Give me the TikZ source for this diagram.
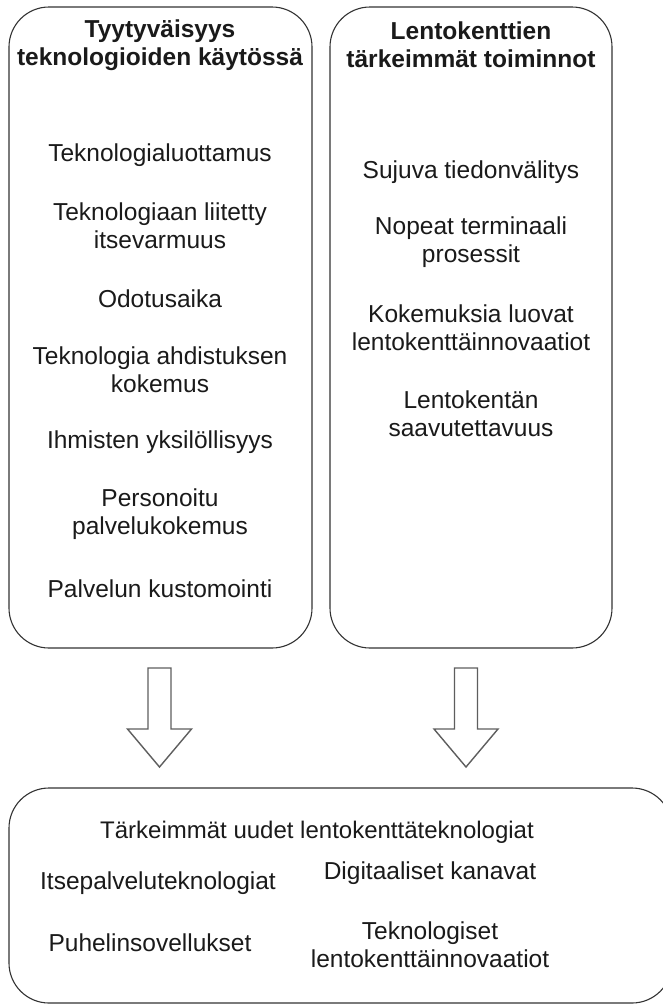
\documentclass[tikz,border=0pt]{standalone}
\usepackage{fontspec}
\setmainfont{Liberation Sans}
\usetikzlibrary{positioning}
\definecolor{edge}{HTML}{333333}
\definecolor{ink}{HTML}{1A1A1A}
\definecolor{arrowgray}{HTML}{5E5E5E}

\begin{document}
\begin{tikzpicture}[x=1pt,y=-1pt,
    panel/.style={draw=edge,line width=1.1pt,rounded corners=40pt},
    item/.style={font=\fontsize{24.5}{28}\selectfont,text=ink,align=center,inner sep=0pt},
    headline/.style={item,font=\fontsize{24.5}{28}\selectfont\bfseries},
    blockarrow/.style={draw=arrowgray,line width=1.4pt,fill=white,line join=miter}]
\useasboundingbox (0,0) rectangle (663,1004);
\clip (0,0) rectangle (663,1004);
\fill[white] (0,0) rectangle (663,1004);
% the three rounded panels
\draw[panel] (9,7) rectangle (312,648);
\draw[panel] (330,7) rectangle (612,648);
\draw[panel] (9,788) rectangle (672,1003);
% left panel
\node[headline] (satTitle) at (160,45) {Tyytyväisyys\\teknologioiden käytössä};
\node[item] (trust) at (160,155) {Teknologialuottamus};
\node[item] (confidence) at (160,226) {Teknologiaan liitetty\\itsevarmuus};
\node[item] (waiting) at (160,299) {Odotusaika};
\node[item] (anxiety) at (160,370) {Teknologia ahdistuksen\\kokemus};
\node[item] (individual) at (160,442) {Ihmisten yksilöllisyys};
\node[item] (personal) at (160,514) {Personoitu\\palvelukokemus};
\node[item] (custom) at (160,589) {Palvelun kustomointi};
% right panel
\node[headline] (funcTitle) at (471,45) {Lentokenttien\\tärkeimmät toiminnot};
\node[item] (info) at (471,172) {Sujuva tiedonvälitys};
\node[item] (terminal) at (471,242) {Nopeat terminaali\\prosessit};
\node[item] (innov) at (471,328) {Kokemuksia luovat\\lentokenttäinnovaatiot};
\node[item] (access) at (471,414) {Lentokentän\\saavutettavuus};
% block arrows down
\foreach \ax in {159.5,466} {
    \draw[blockarrow] ({\ax-11.5},668) -- ({\ax+11.5},668) -- ({\ax+11.5},729)
        -- ({\ax+32},729) -- (\ax,767) -- ({\ax-32},729) -- ({\ax-11.5},729) -- cycle;
}
% bottom panel
\node[item,font=\fontsize{24}{28}\selectfont] (techTitle) at (317,832) {Tärkeimmät uudet lentokenttäteknologiat};
\node[item] (selfserv) at (158,883) {Itsepalveluteknologiat};
\node[item] (digital) at (430,873) {Digitaaliset kanavat};
\node[item] (mobile) at (150,943) {Puhelinsovellukset};
\node[item] (techinnov) at (430,945) {Teknologiset\\lentokenttäinnovaatiot};
\end{tikzpicture}
\end{document}
